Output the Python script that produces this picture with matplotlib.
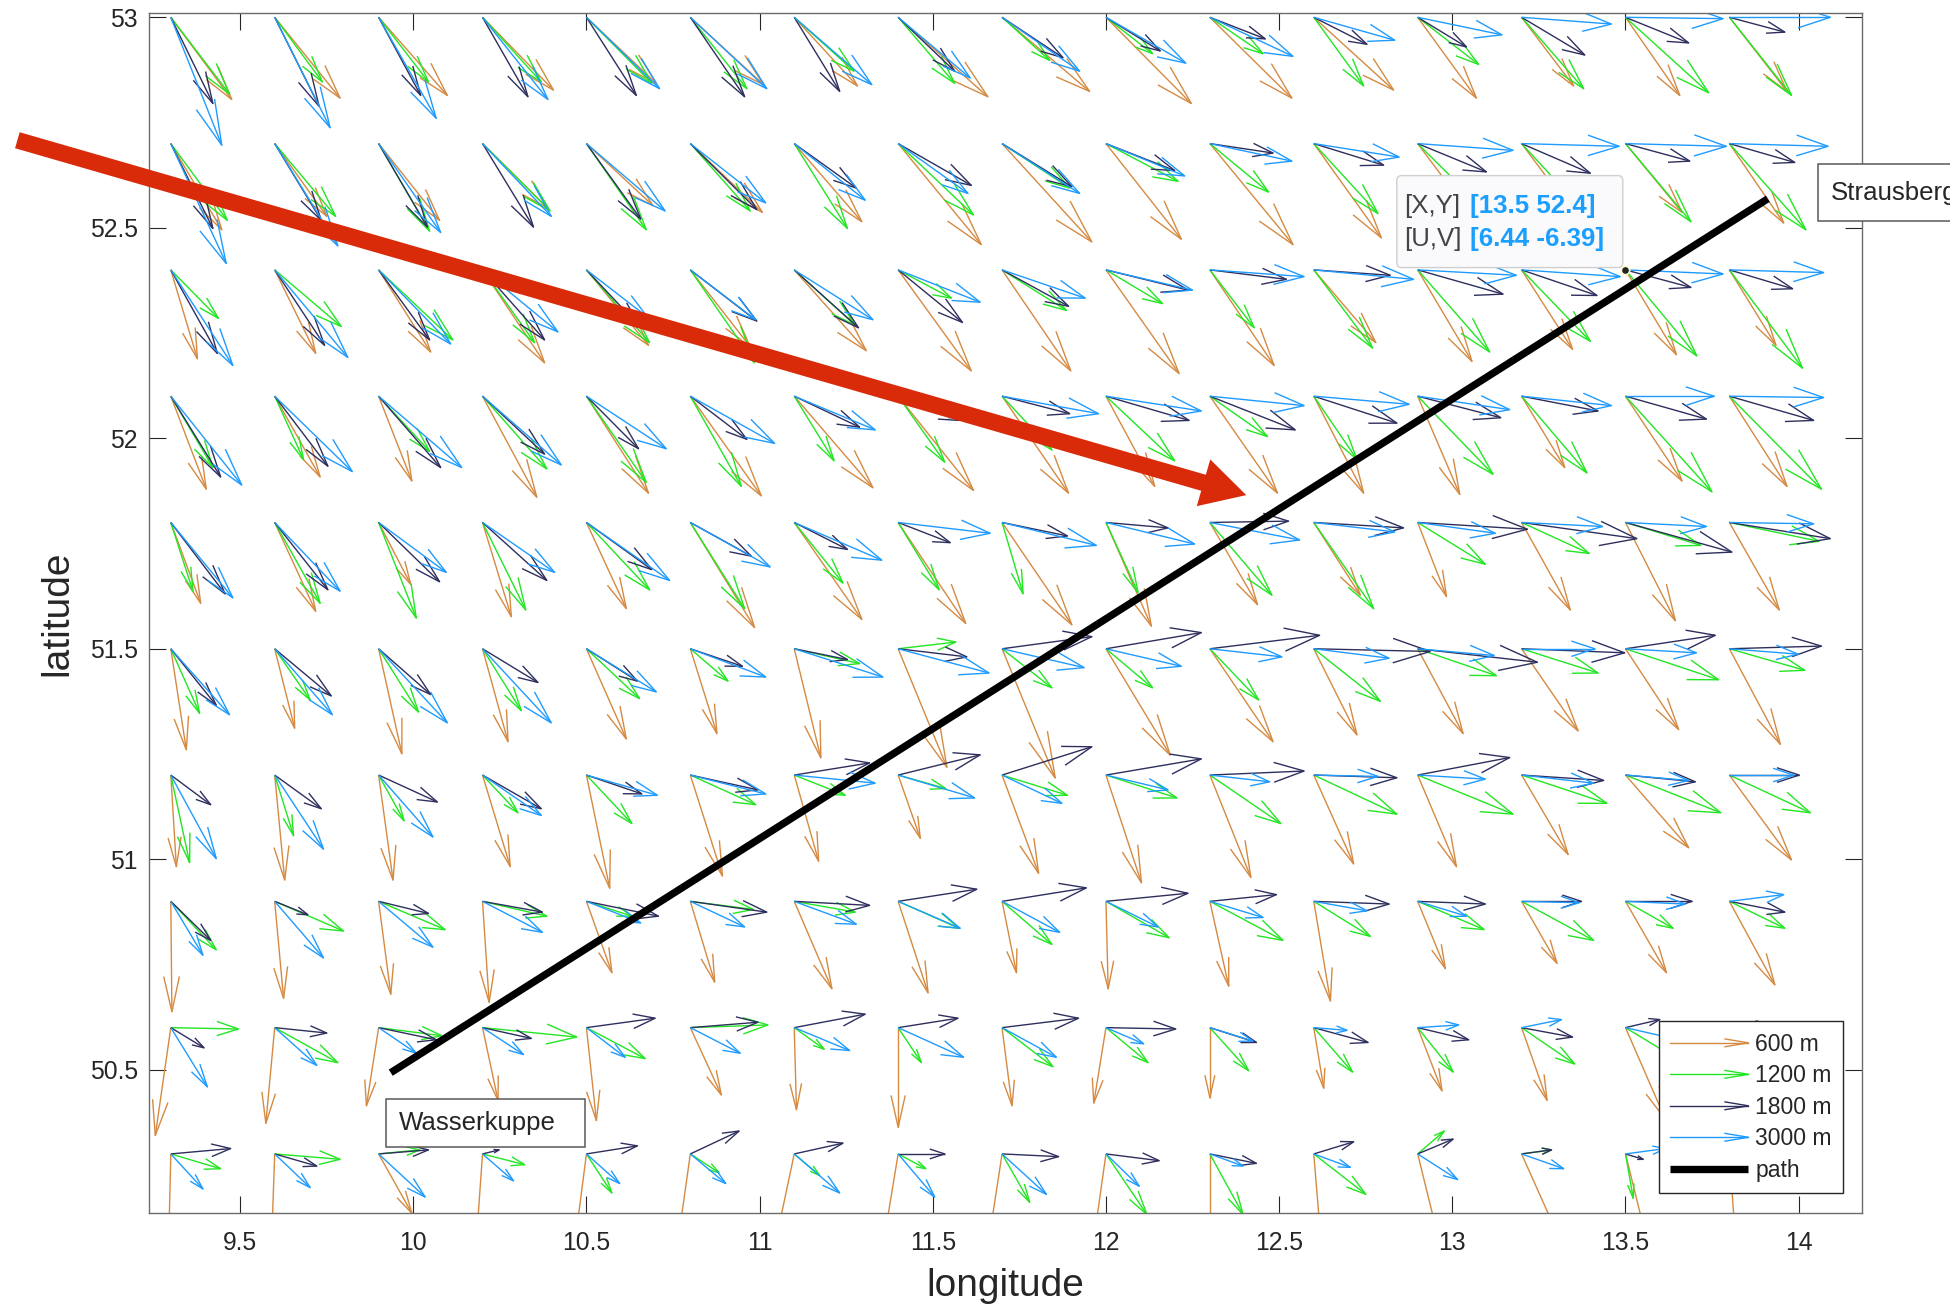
import numpy as np
import matplotlib.pyplot as plt
from matplotlib.collections import LineCollection
from matplotlib.legend_handler import HandlerBase
from matplotlib.lines import Line2D
from matplotlib.patches import FancyArrowPatch, FancyBboxPatch
from matplotlib.transforms import ScaledTranslation

plt.rcParams['font.family'] = ['Liberation Sans', 'DejaVu Sans']

# grid of the wind field (rows go from north to south)
lon = [9.3, 9.6, 9.9, 10.2, 10.5, 10.8, 11.1, 11.4, 11.7, 12.0, 12.3, 12.6, 12.9, 13.2, 13.5, 13.8]
lat = [53.0, 52.7, 52.4, 52.1, 51.8, 51.5, 51.2, 50.9, 50.6, 50.3]

# wind components in m/s for each level
u600 = [
    [5.5, 5.9, 6.2, 6.4, 6.3, 6.6, 5.7, 8.1, 7.9, 7.7, 7.4, 7.2, 5.3, 4.7, 4.9, 5.2],
    [4.6, 4.7, 5.5, 5.9, 6.0, 6.5, 6.1, 7.5, 8.1, 6.8, 7.5, 6.1, 5.0, 5.0, 5.1, 4.9],
    [2.4, 3.7, 4.7, 5.6, 5.6, 5.4, 6.5, 6.6, 6.2, 6.6, 5.8, 5.6, 4.9, 4.6, 4.6, 4.2],
    [3.2, 4.1, 3.0, 4.9, 5.6, 6.4, 7.1, 6.8, 6.0, 4.4, 6.1, 4.5, 3.8, 3.9, 5.1, 5.2],
    [2.7, 3.7, 2.9, 2.6, 3.6, 5.8, 6.1, 6.1, 6.3, 4.1, 4.3, 4.2, 2.6, 4.4, 4.5, 4.5],
    [1.4, 1.8, 2.1, 2.3, 3.6, 2.4, 2.4, 4.4, 4.8, 5.8, 5.7, 3.9, 4.1, 5.1, 4.8, 4.6],
    [0.5, 0.9, 1.3, 2.5, 2.1, 2.9, 2.2, 2.0, 3.3, 3.2, 3.7, 3.6, 3.5, 4.2, 5.7, 5.6],
    [0.1, 0.8, 1.1, 0.6, 2.3, 2.2, 3.4, 2.7, 1.3, 0.2, 1.7, 1.5, 2.5, 3.2, 3.7, 4.1],
    [-1.4, -0.8, -1.1, 1.4, 0.9, 2.8, 0.2, 0.0, 0.9, -1.1, 0.0, 0.9, 2.2, 2.3, 3.6, 3.5],
    [-0.2, -0.3, 3.0, -0.6, -1.1, -1.2, -1.8, -1.4, -1.3, -1.2, 0.0, 0.7, 2.1, 3.8, 2.1, 0.6],
]
v600 = [
    [-6.1, -6.0, -5.8, -5.4, -4.9, -5.0, -5.1, -5.9, -5.5, -6.4, -6.0, -5.4, -6.0, -5.1, -5.8, -5.5],
    [-6.4, -5.4, -5.7, -4.8, -4.6, -5.1, -5.8, -7.5, -7.3, -7.1, -7.5, -7.0, -5.5, -5.5, -5.1, -5.9],
    [-6.6, -6.2, -6.1, -6.9, -5.6, -5.7, -6.0, -7.5, -7.5, -7.7, -7.1, -5.4, -6.8, -5.9, -6.3, -5.6],
    [-6.9, -6.0, -6.3, -7.5, -7.2, -7.4, -6.8, -7.0, -7.2, -6.7, -7.2, -7.2, -7.3, -5.3, -6.3, -6.7],
    [-6.0, -6.6, -4.6, -7.0, -6.4, -7.8, -7.2, -7.5, -7.6, -7.7, -6.1, -5.4, -5.5, -6.5, -7.3, -6.5],
    [-7.5, -5.9, -7.8, -6.9, -6.7, -6.3, -8.1, -8.8, -9.6, -7.9, -6.9, -6.4, -6.3, -6.1, -6.0, -7.1],
    [-6.8, -7.8, -7.8, -6.8, -8.4, -7.5, -6.4, -4.7, -7.3, -8.0, -7.6, -6.6, -6.8, -5.9, -5.4, -6.3],
    [-8.2, -7.2, -6.9, -7.5, -5.3, -6.0, -6.5, -6.8, -5.3, -6.5, -6.3, -7.4, -5.0, -4.6, -5.3, -6.2],
    [-8.0, -7.1, -5.8, -5.4, -6.9, -5.0, -6.1, -7.4, -5.8, -5.6, -5.2, -4.5, -4.7, -5.4, -6.8, -6.5],
    [-7.0, -7.0, -4.4, -7.0, -7.0, -7.0, -7.0, -7.0, -7.0, -7.0, -7.0, -7.0, -7.0, -7.0, -7.0, -7.0],
]
u1200 = [
    [5.3, 4.3, 4.5, 5.3, 5.9, 5.1, 5.4, 5.1, 4.3, 4.2, 4.8, 4.5, 5.5, 5.6, 7.5, 5.6],
    [5.1, 5.5, 4.6, 6.1, 5.4, 5.4, 4.8, 6.8, 6.1, 6.5, 5.3, 5.8, 5.5, 5.6, 5.9, 6.9],
    [4.3, 6.0, 6.7, 4.7, 5.7, 5.8, 5.5, 4.8, 5.8, 5.1, 4.0, 5.3, 6.5, 6.2, 6.44, 6.6],
    [3.8, 2.6, 4.6, 5.8, 5.4, 4.6, 3.6, 4.2, 4.5, 6.2, 5.2, 3.9, 6.8, 5.9, 7.8, 8.3],
    [2.0, 4.1, 3.4, 3.9, 5.7, 4.9, 4.4, 3.7, 1.9, 2.9, 5.6, 5.4, 6.1, 6.1, 6.8, 8.1],
    [2.6, 3.2, 3.6, 3.5, 4.8, 3.4, 5.9, 5.2, 4.5, 4.2, 4.4, 6.0, 7.1, 6.9, 8.4, 6.8],
    [1.7, 1.7, 2.3, 3.2, 4.1, 5.9, 4.6, 4.3, 5.9, 6.4, 6.4, 7.5, 8.6, 7.7, 8.6, 7.3],
    [4.1, 6.2, 6.0, 5.8, 4.1, 5.7, 5.5, 5.5, 4.5, 5.7, 6.6, 5.1, 6.0, 6.5, 4.3, 5.0],
    [6.1, 5.7, 5.7, 8.5, 5.3, 7.0, 2.7, 2.1, 4.6, 3.8, 3.5, 3.5, 3.2, 4.8, 4.8, 4.5],
    [4.5, 5.9, 3.7, 3.8, 2.3, 2.6, 2.3, 2.5, 2.5, 3.7, 3.0, 4.7, 2.4, 2.7, 0.7, 3.5],
]
v1200 = [
    [-5.7, -4.8, -4.8, -4.8, -4.9, -5.3, -4.0, -4.9, -3.2, -2.7, -2.7, -5.1, -3.5, -5.3, -5.6, -5.8],
    [-5.7, -5.4, -6.5, -5.0, -6.4, -5.0, -6.3, -5.3, -3.3, -2.8, -3.6, -5.2, -4.5, -5.0, -5.8, -6.4],
    [-3.6, -4.2, -5.2, -5.4, -5.4, -6.9, -4.1, -2.1, -3.0, -2.5, -4.3, -5.8, -6.1, -5.3, -6.39, -7.3],
    [-5.3, -4.7, -4.1, -5.4, -6.4, -6.7, -4.8, -4.9, -4.0, -4.8, -3.0, -4.7, -5.8, -5.7, -7.1, -6.9],
    [-5.1, -6.0, -7.1, -6.5, -5.0, -6.4, -4.5, -5.0, -5.3, -5.2, -5.4, -6.4, -3.1, -2.3, -1.7, -1.4],
    [-4.8, -3.8, -4.7, -4.6, -3.7, -2.4, -1.1, 0.5, -2.9, -2.9, -3.8, -3.9, -2.0, -1.8, -2.3, -1.6],
    [-6.5, -4.5, -3.4, -2.8, -3.6, -2.2, -1.5, -1.0, -1.5, -1.7, -3.6, -2.9, -2.9, -2.1, -2.8, -2.8],
    [-3.6, -2.2, -2.1, -1.1, -1.1, -0.6, -0.8, -2.0, -3.2, -2.7, -2.9, -2.6, -2.1, -2.9, -2.0, -2.0],
    [-0.1, -2.6, -0.6, -0.7, -2.3, 0.2, -1.6, -2.6, -2.9, -2.6, -3.2, -3.3, -3.3, -2.7, -2.4, -2.5],
    [-1.1, -0.4, 0.3, -0.8, -2.9, -1.4, -1.6, -1.1, -3.6, -4.5, -4.5, -3.0, 1.7, 0.3, -3.3, -2.5],
]
u1800 = [
    [3.8, 4.0, 3.8, 4.1, 4.5, 4.9, 4.1, 5.1, 5.5, 4.9, 5.0, 4.8, 4.4, 5.7, 5.7, 5.0],
    [3.8, 4.2, 4.4, 4.6, 4.9, 6.0, 5.6, 6.6, 6.3, 6.2, 5.7, 6.3, 6.2, 6.2, 5.8, 5.9],
    [4.2, 4.5, 4.6, 5.6, 4.8, 6.0, 5.8, 5.8, 6.0, 7.4, 6.9, 6.9, 7.7, 6.8, 5.9, 5.7],
    [4.5, 4.8, 5.6, 5.6, 4.7, 5.1, 5.9, 5.5, 6.1, 7.5, 7.7, 7.5, 7.5, 6.9, 7.3, 7.6],
    [4.9, 4.8, 5.5, 5.8, 5.9, 5.5, 4.8, 4.7, 5.9, 5.6, 7.1, 8.1, 9.9, 10.4, 9.6, 9.1],
    [4.1, 5.1, 4.7, 5.0, 4.6, 4.7, 4.8, 6.2, 8.1, 8.6, 9.9, 10.5, 10.8, 9.3, 8.1, 8.3],
    [3.6, 4.2, 5.3, 5.3, 5.0, 6.1, 6.8, 7.4, 8.1, 8.6, 8.5, 7.5, 8.3, 7.4, 6.3, 6.3],
    [3.6, 3.0, 4.5, 5.4, 6.5, 6.9, 6.8, 7.1, 7.6, 7.4, 6.0, 6.8, 6.1, 5.4, 6.0, 5.0],
    [3.0, 4.7, 5.2, 4.4, 6.2, 6.1, 6.4, 5.4, 6.9, 6.3, 4.2, 4.9, 4.6, 4.6, 3.1, 3.5],
    [5.4, 3.8, 4.5, 1.5, 4.6, 4.4, 4.4, 4.2, 5.1, 4.8, 4.2, 3.6, 3.2, 2.7, 1.6, 3.0],
]
v1800 = [
    [-6.4, -6.6, -5.8, -5.9, -5.8, -5.9, -5.5, -4.0, -3.0, -2.5, -1.6, -2.0, -2.2, -2.8, -1.9, -1.1],
    [-6.3, -5.7, -6.2, -6.2, -5.6, -4.9, -3.3, -3.1, -3.2, -2.0, -0.7, -1.6, -2.1, -2.2, -1.3, -1.4],
    [-6.2, -5.6, -5.2, -5.2, -4.2, -3.8, -4.3, -3.9, -2.7, -1.5, -0.7, -0.4, -1.8, -1.9, -1.3, -1.4],
    [-6.0, -5.2, -5.3, -4.3, -3.9, -3.2, -2.3, -1.8, -1.3, -1.8, -2.5, -2.0, -1.6, -1.1, -1.7, -1.8],
    [-5.3, -5.0, -4.4, -4.3, -3.5, -2.5, -2.0, -1.5, -1.0, -0.4, 0.1, -0.4, -0.5, -1.2, -2.2, -1.2],
    [-4.2, -3.5, -3.4, -2.5, -2.4, -1.3, -0.8, -0.6, 0.9, 1.2, 1.0, -0.2, -1.0, -0.3, 1.0, 0.2],
    [-2.2, -2.5, -2.0, -2.5, -1.4, -1.1, 0.9, 1.5, 2.1, 1.2, 0.3, -0.2, 1.3, -0.4, -0.5, 0.0],
    [-2.9, -1.0, -0.9, -0.8, -1.1, -0.8, -0.3, 0.9, 1.0, 0.6, 0.5, -0.2, -0.2, 0.0, 0.0, -0.8],
    [-1.5, -0.4, -0.9, -0.8, 0.7, 0.4, 1.0, 0.7, 0.7, -0.1, -1.1, -1.1, -0.9, -0.7, 0.6, 0.3],
    [0.4, -0.9, 0.3, 0.3, 0.6, 1.7, 0.8, 0.0, -0.2, -0.5, -0.7, 0.9, 1.1, 0.3, -0.4, 0.5],
]
u3000 = [
    [4.6, 5.0, 5.2, 5.9, 6.6, 6.9, 7.0, 6.5, 7.0, 7.2, 7.5, 7.3, 7.6, 8.1, 8.8, 9.1],
    [5.0, 5.7, 5.6, 6.2, 7.1, 6.8, 6.4, 6.3, 7.0, 7.1, 7.4, 7.7, 8.6, 8.8, 9.1, 8.9],
    [5.6, 6.6, 6.5, 6.8, 5.5, 5.9, 7.1, 7.4, 7.5, 7.8, 8.5, 9.0, 8.9, 8.9, 8.8, 8.5],
    [6.4, 7.0, 7.5, 7.1, 7.2, 7.6, 7.3, 6.8, 8.7, 8.6, 8.5, 8.6, 8.3, 8.1, 8.0, 8.5],
    [5.6, 5.9, 6.1, 6.5, 7.5, 7.2, 7.9, 8.3, 8.5, 8.0, 8.1, 7.3, 7.0, 7.3, 7.3, 7.6],
    [5.3, 5.2, 6.2, 6.2, 6.3, 6.8, 8.0, 8.2, 7.4, 6.8, 6.5, 6.8, 6.9, 6.6, 6.4, 6.2],
    [4.1, 4.4, 4.9, 5.3, 6.4, 6.8, 7.3, 6.9, 5.4, 5.6, 5.4, 5.8, 6.1, 6.5, 5.7, 5.8],
    [2.9, 4.4, 4.9, 5.4, 4.9, 4.9, 5.6, 5.6, 5.2, 4.7, 4.8, 4.8, 4.4, 5.2, 5.4, 4.9],
    [3.3, 3.8, 3.4, 3.7, 3.5, 4.5, 5.0, 5.9, 4.9, 3.4, 3.9, 3.0, 3.7, 3.6, 4.8, 4.5],
    [2.9, 3.2, 4.2, 2.8, 3.0, 3.2, 4.1, 3.3, 4.0, 3.0, 3.0, 3.3, 3.6, 3.8, 3.6, 3.5],
]
v3000 = [
    [-9.5, -8.2, -7.5, -6.1, -5.3, -5.3, -5.0, -4.5, -4.0, -3.4, -2.9, -1.7, -1.3, -0.5, -0.1, 0.0],
    [-8.9, -7.6, -6.6, -5.4, -5.0, -4.4, -4.2, -3.7, -3.7, -2.4, -1.3, -1.0, -0.5, -0.2, -0.2, -0.2],
    [-7.1, -6.5, -5.5, -4.6, -3.5, -3.7, -3.7, -2.4, -2.1, -1.5, -0.5, -0.7, -0.4, -0.5, -0.3, -0.2],
    [-6.6, -5.6, -5.3, -5.1, -3.9, -3.5, -2.5, -1.5, -1.3, -1.1, -0.7, -0.6, -1.0, -0.7, 0.0, -0.1],
    [-5.6, -5.1, -3.7, -3.7, -4.3, -3.3, -2.8, -0.8, -1.7, -1.6, -1.3, -0.7, -0.8, -0.3, -0.3, -0.1],
    [-4.9, -4.9, -5.5, -5.5, -3.2, -2.1, -2.1, -1.8, -1.4, -1.3, -0.6, -0.7, -0.5, 0.0, -0.3, -0.4],
    [-6.2, -5.5, -4.6, -3.0, -1.5, -1.4, -0.6, -1.7, -2.1, -1.1, -0.5, -0.1, -0.3, -0.6, -0.4, 0.0],
    [-4.0, -4.2, -3.4, -2.3, -1.6, -1.9, -1.7, -2.0, -2.3, -1.9, -1.2, -0.7, -1.1, -0.1, -0.2, 0.5],
    [-4.4, -2.8, -1.9, -2.0, -2.2, -1.9, -1.7, -2.2, -2.2, -1.2, -1.0, -0.2, 0.2, 0.6, -0.9, -0.5],
    [-2.6, -2.5, -3.2, -2.0, -2.2, -2.2, -2.9, -3.2, -3.0, -2.4, -0.9, -1.0, -1.9, -1.1, 0.4, -1.0],
]

levels = ['600 m', '1200 m', '1800 m', '3000 m']
colors = ['#d58a42', '#22e622', '#2e2f5e', '#1f9bff']

# flight path and the two airfields
path_lon = [9.935, 13.911]
path_lat = [50.493, 52.569]
start_name, start_pos = 'Wasserkuppe', (9.959, 50.374)
end_name, end_pos = 'Strausberg', (14.093, 52.583)

# selected vector shown in the data tip
tip_pos = (13.5, 52.4)
tip_uv = (6.44, -6.39)

# main wind direction marker
wind_from = (8.857, 52.708)
wind_to = (12.405, 51.865)

scale = 0.032          # degrees per m/s
head_len, head_wid = 0.32, 0.27
label_size = 18.6


def arrow_segments(u, v):
    X, Y = np.meshgrid(lon, lat)
    U = np.asarray(u) * scale
    V = np.asarray(v) * scale
    segs = []
    for x, y, du, dv in zip(X.ravel(), Y.ravel(), U.ravel(), V.ravel()):
        tx, ty = x + du, y + dv
        segs.append([(x, y), (tx, ty)])
        segs.append([(tx - head_len * (du + head_wid * dv), ty - head_len * (dv - head_wid * du)),
                     (tx, ty),
                     (tx - head_len * (du - head_wid * dv), ty - head_len * (dv + head_wid * du))])
    return segs


class ArrowHandler(HandlerBase):
    def create_artists(self, legend, orig_handle, xdescent, ydescent, width, height, fontsize, trans):
        y = height / 2 - ydescent
        x0, x1 = -xdescent, width - xdescent
        hl, hw = 0.3 * width, 0.05 * width
        c = orig_handle.get_color()
        lw = orig_handle.get_linewidth()
        return [Line2D([x0, x1], [y, y], color=c, lw=lw, transform=trans),
                Line2D([x1 - hl, x1, x1 - hl], [y + hw, y, y - hw], color=c, lw=lw, transform=trans)]


def boxed_label(pos, name, left, width, height):
    # text with a frame measured in inches from the anchor point
    tr = fig.dpi_scale_trans + ScaledTranslation(pos[0], pos[1], ax.transData)
    frame = FancyBboxPatch((-left, -height / 2), width, height, boxstyle='square,pad=0',
                           fc='white', ec='#595959', lw=1.1, transform=tr, zorder=6)
    frame.set_clip_on(False)
    ax.add_patch(frame)
    ax.text(0, 0, name, transform=tr, fontsize=label_size, color='#262626',
            ha='left', va='center', zorder=7, clip_on=False)


fig = plt.figure(figsize=(19.5, 13.07), dpi=100)
ax = fig.add_axes([0.0764, 0.0717, 0.8785, 0.9186])

data = [(u600, v600), (u1200, v1200), (u1800, v1800), (u3000, v3000)]
handles = []
for (u, v), c, name in zip(data, colors, levels):
    lc = LineCollection(arrow_segments(u, v), colors=c, linewidths=1.0)
    ax.add_collection(lc)
    handles.append(Line2D([], [], color=c, lw=1.0, label=name))

path_line, = ax.plot(path_lon, path_lat, color='black', lw=5.3, solid_capstyle='butt', label='path')
handles.append(path_line)

ax.set_xlim(9.237, 14.183)
ax.set_ylim(50.159, 53.011)
ax.set_xticks([9.5, 10, 10.5, 11, 11.5, 12, 12.5, 13, 13.5, 14])
ax.set_xticklabels(['9.5', '10', '10.5', '11', '11.5', '12', '12.5', '13', '13.5', '14'])
ax.set_yticks([50.5, 51, 51.5, 52, 52.5, 53])
ax.set_yticklabels(['50.5', '51', '51.5', '52', '52.5', '53'])
ax.tick_params(direction='in', top=True, right=True, length=12, width=0.8,
               colors='#262626', labelsize=17.8)
ax.tick_params(axis='x', pad=13)
ax.tick_params(axis='y', pad=8)
for s in ax.spines.values():
    s.set_color('#6b6b6b')
    s.set_linewidth(1.0)
ax.set_xlabel('longitude', fontsize=28, color='#262626', labelpad=9)
ax.set_ylabel('latitude', fontsize=28, color='#262626', labelpad=10)

# airfield labels
boxed_label(start_pos, start_name, 0.135, 1.99, 0.48)
boxed_label(end_pos, end_name, 0.13, 2.2, 0.57)

# main wind direction
wind = FancyArrowPatch(wind_from, wind_to, arrowstyle='simple,head_length=32,head_width=35,tail_width=12',
                       mutation_scale=1, color='#d92b0a', lw=0, shrinkA=0, shrinkB=0, zorder=5)
wind.set_clip_on(False)
ax.add_patch(wind)

# data tip
ax.plot(*tip_pos, 'o', color='#222222', ms=6, mec='#ffffcc', mew=1.2, zorder=7)
tt = fig.dpi_scale_trans + ScaledTranslation(tip_pos[0], tip_pos[1], ax.transData)
tip_box = FancyBboxPatch((-2.287, 0.023), 2.26, 0.92, boxstyle='round,pad=0,rounding_size=0.05',
                         fc='#fafafc', ec='#cfcfcf', lw=1.0, transform=tt, zorder=6)
ax.add_patch(tip_box)
ax.text(-2.21, 0.643, '[X,Y]', transform=tt, fontsize=label_size, color='#444444', va='center', zorder=7)
ax.text(-1.55, 0.643, '[%g %g]' % tip_pos, transform=tt, fontsize=label_size, color='#1a9fff',
        fontweight='bold', va='center', zorder=7)
ax.text(-2.21, 0.313, '[U,V]', transform=tt, fontsize=label_size, color='#444444', va='center', zorder=7)
ax.text(-1.55, 0.313, '[%g %g]' % tip_uv, transform=tt, fontsize=label_size, color='#1a9fff',
        fontweight='bold', va='center', zorder=7)

arrow_handler = ArrowHandler()
leg = ax.legend(handles=handles, loc='lower right', bbox_to_anchor=(0.989, 0.0167), borderaxespad=0,
                fontsize=16.5, handlelength=3.4, handletextpad=0.3, labelspacing=0.37,
                borderpad=0.5, fancybox=False, framealpha=1, edgecolor='#262626',
                handler_map={h: arrow_handler for h in handles[:4]})
leg.get_frame().set_linewidth(1.0)
leg.set_zorder(8)
for t in leg.get_texts():
    t.set_color('#262626')

fig.savefig('out.png', dpi=100)
